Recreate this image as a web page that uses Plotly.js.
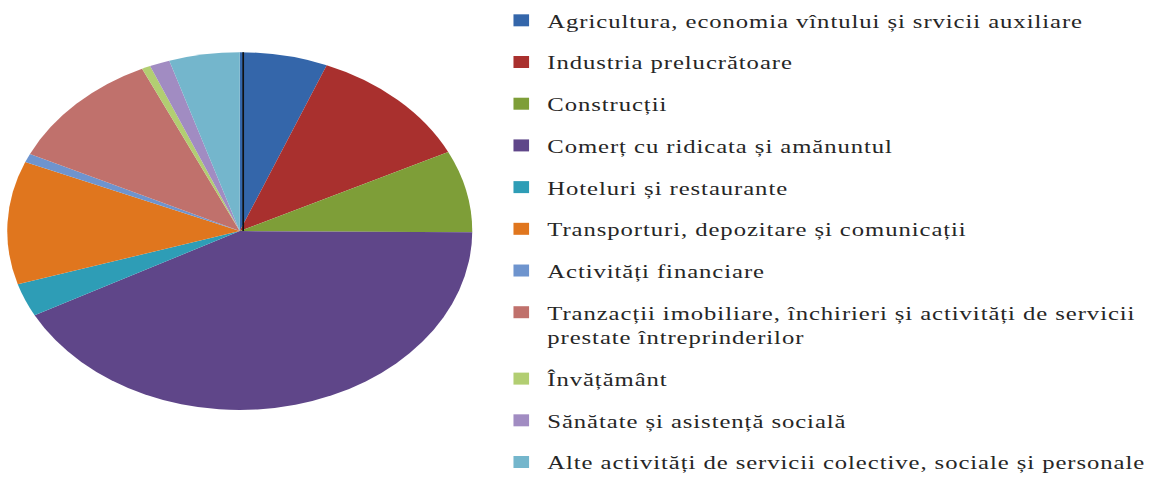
<!DOCTYPE html>
<html><head><meta charset="utf-8">
<script src="https://cdn.plot.ly/plotly-3.0.1.min.js"></script>
<style>
html,body{margin:0;padding:0;background:#fff;overflow:hidden;}
#wrap{width:1152px;height:488px;overflow:hidden;background:#fff;}
#chart{width:886px;height:488px;transform:scaleX(1.3);transform-origin:0 0;}
#chart .legendtext{letter-spacing:0.72px;}
#chart .legend .scrollbox, #chart .legend{clip-path:none !important;}
</style></head><body>
<div id="wrap"><div id="chart"></div></div>
<script>
const categories = [
  "Agricultura, economia vîntului și srvicii auxiliare",
  "Industria prelucrătoare",
  "Construcții",
  "Comerț cu ridicata și amănuntul",
  "Hoteluri și restaurante",
  "Transporturi, depozitare și comunicații",
  "Activități financiare",
  "Tranzacții imobiliare, închirieri și activități de servicii<br>prestate întreprinderilor",
  "Învățământ",
  "Sănătate și asistență socială",
  "Alte activități de servicii colective, sociale și personale"
];
const values = [6.1, 11.6, 7.4, 42.1, 3.0, 11.1, 0.8, 11.0, 0.6, 1.4, 4.9];
const colors = ["#3466AA", "#A9302E", "#7E9E38", "#5F4689", "#2E9DB6", "#E0761E",
                "#6E94CE", "#C0716C", "#B2CE72", "#A18CC2", "#74B6CC"];

const dom = {x: [0.0063, 0.410], y: [0.160, 0.893]};

const traces = [{
  type: "pie",
  labels: categories,
  values: values,
  marker: {colors: colors, line: {width: 0}},
  sort: false,
  direction: "clockwise",
  rotation: 0,
  textinfo: "none",
  hoverinfo: "label+percent",
  showlegend: false,
  domain: dom
}];
categories.forEach((c, i) => {
  traces.push({
    type: "scatter", mode: "markers",
    x: [null], y: [null],
    name: c, legendgroup: "g" + i,
    marker: {symbol: "square", size: 12, color: colors[i]},
    showlegend: true, hoverinfo: "skip"
  });
});

const cx = (dom.x[0] + dom.x[1]) / 2, cy = (dom.y[0] + dom.y[1]) / 2;
const layout = {
  width: 886, height: 488,
  margin: {l: 0, r: 0, t: 0, b: 0, autoexpand: false},
  paper_bgcolor: "#ffffff", plot_bgcolor: "rgba(0,0,0,0)",
  xaxis: {visible: false, domain: [0.42, 0.43]},
  yaxis: {visible: false},
  showlegend: true,
  legend: {
    x: 0.430, y: 0.997, xanchor: "left", yanchor: "top",
    font: {family: "Liberation Serif", size: 19, color: "#262626"},
    tracegroupgap: 14, valign: "top", itemsizing: "trace",
    bgcolor: "rgba(0,0,0,0)", borderwidth: 0
  },
  shapes: [{
    type: "line", xref: "paper", yref: "paper",
    x0: cx + 0.003, x1: cx + 0.003, y0: cy, y1: dom.y[1],
    line: {color: "#111", width: 1.3}, layer: "above"
  }]
};
Plotly.newPlot("chart", traces, layout, {staticPlot: true, displayModeBar: false});
</script>
</body></html>
